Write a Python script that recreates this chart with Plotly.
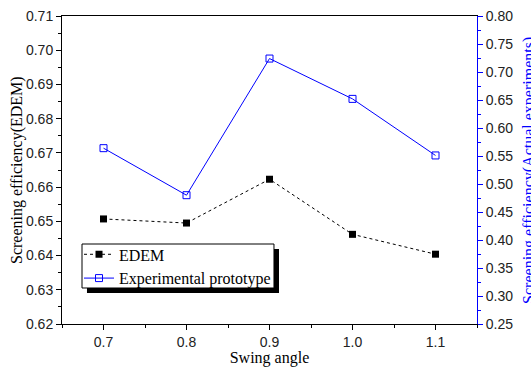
import plotly.graph_objects as go

# Swing angle settings and measured screening efficiencies
swing_angle = [0.7, 0.8, 0.9, 1.0, 1.1]
edem_eff = [0.6507, 0.6495, 0.6623, 0.6462, 0.6404]
prototype_eff = [0.564, 0.480, 0.724, 0.652, 0.551]

left_ticks = [0.62, 0.63, 0.64, 0.65, 0.66, 0.67, 0.68, 0.69, 0.70, 0.71]
right_ticks = [0.25, 0.30, 0.35, 0.40, 0.45, 0.50, 0.55, 0.60, 0.65, 0.70, 0.75, 0.80]
x_ticks = [0.7, 0.8, 0.9, 1.0, 1.1]

SANS = "Liberation Sans, Arial, sans-serif"
SERIF = "Liberation Serif, Times New Roman, serif"
BLUE = "#0000ff"

fig = go.Figure()

fig.add_trace(go.Scatter(
    x=swing_angle, y=edem_eff, name="EDEM", mode="lines+markers",
    line=dict(color="black", width=1, dash="dot"),
    marker=dict(symbol="square", size=7, color="black"),
    yaxis="y",
))
fig.add_trace(go.Scatter(
    x=swing_angle, y=prototype_eff, name="Experimental prototype", mode="lines+markers",
    line=dict(color=BLUE, width=1),
    marker=dict(symbol="square-open", size=7, color=BLUE, line=dict(width=1)),
    yaxis="y2",
))

# legend frame with a drop shadow (the legend itself is drawn borderless on top)
fig.add_shape(type="rect", xref="paper", yref="paper",
              x0=0.0602, x1=0.5229, y0=0.1006, y1=0.2435,
              fillcolor="black", line=dict(width=0), layer="above")
fig.add_shape(type="rect", xref="paper", yref="paper",
              x0=0.0482, x1=0.5108, y0=0.1169, y1=0.2597,
              fillcolor="white", line=dict(color="black", width=1), layer="above")

# vertical axis titles, placed as rotated annotations
fig.add_annotation(text="Screening efficiency(EDEM)", xref="paper", yref="paper",
                   x=-0.1084, y=0.5, xanchor="center", yanchor="middle",
                   textangle=-90, showarrow=False,
                   font=dict(family=SERIF, size=16, color="black"))
fig.add_annotation(text="Screening efficiency(Actual experiments)", xref="paper", yref="paper",
                   x=1.125, y=0.5, xanchor="center", yanchor="middle",
                   textangle=-90, showarrow=False,
                   font=dict(family=SERIF, size=16, color=BLUE))

fig.update_layout(
    width=531, height=367,
    margin=dict(l=62, r=54, t=16, b=43),
    plot_bgcolor="white", paper_bgcolor="white",
    showlegend=True,
    legend=dict(
        x=0.041, y=0.2812, xanchor="left", yanchor="top",
        bgcolor="rgba(0,0,0,0)", borderwidth=0,
        font=dict(family=SERIF, size=16, color="black"),
        tracegroupgap=0, itemwidth=30,
    ),
    xaxis=dict(
        range=[0.65, 1.15], tickvals=x_ticks, ticktext=[f"{v:.1f}" for v in x_ticks],
        showgrid=False, zeroline=False,
        showline=True, linecolor="black", linewidth=1, mirror=True,
        ticks="outside", ticklen=5, tickcolor="black",
        minor=dict(dtick=0.05, tick0=0.65, ticks="outside", ticklen=3, tickcolor="black"),
        tickfont=dict(family=SANS, size=14, color="#222"),
        title=dict(text="Swing angle", font=dict(family=SERIF, size=16, color="black"), standoff=2),
        automargin=False,
    ),
    yaxis=dict(
        range=[0.62, 0.71], tickvals=left_ticks, ticktext=[f"{v:.2f}" for v in left_ticks],
        showgrid=False, zeroline=False,
        showline=True, linecolor="black", linewidth=1,
        ticks="outside", ticklen=5, tickcolor="black",
        minor=dict(dtick=0.005, tick0=0.62, ticks="outside", ticklen=3, tickcolor="black"),
        tickfont=dict(family=SANS, size=14, color="#222"),
        automargin=False,
    ),
    yaxis2=dict(
        range=[0.25, 0.80], tickvals=right_ticks, ticktext=[f"{v:.2f}" for v in right_ticks],
        overlaying="y", side="right",
        showgrid=False, zeroline=False,
        showline=True, linecolor=BLUE, linewidth=1,
        ticks="outside", ticklen=5, tickcolor=BLUE,
        minor=dict(dtick=0.025, tick0=0.25, ticks="outside", ticklen=3, tickcolor=BLUE),
        tickfont=dict(family=SANS, size=14, color="#222"),
        automargin=False,
    ),
)

fig.write_html("out.html")
